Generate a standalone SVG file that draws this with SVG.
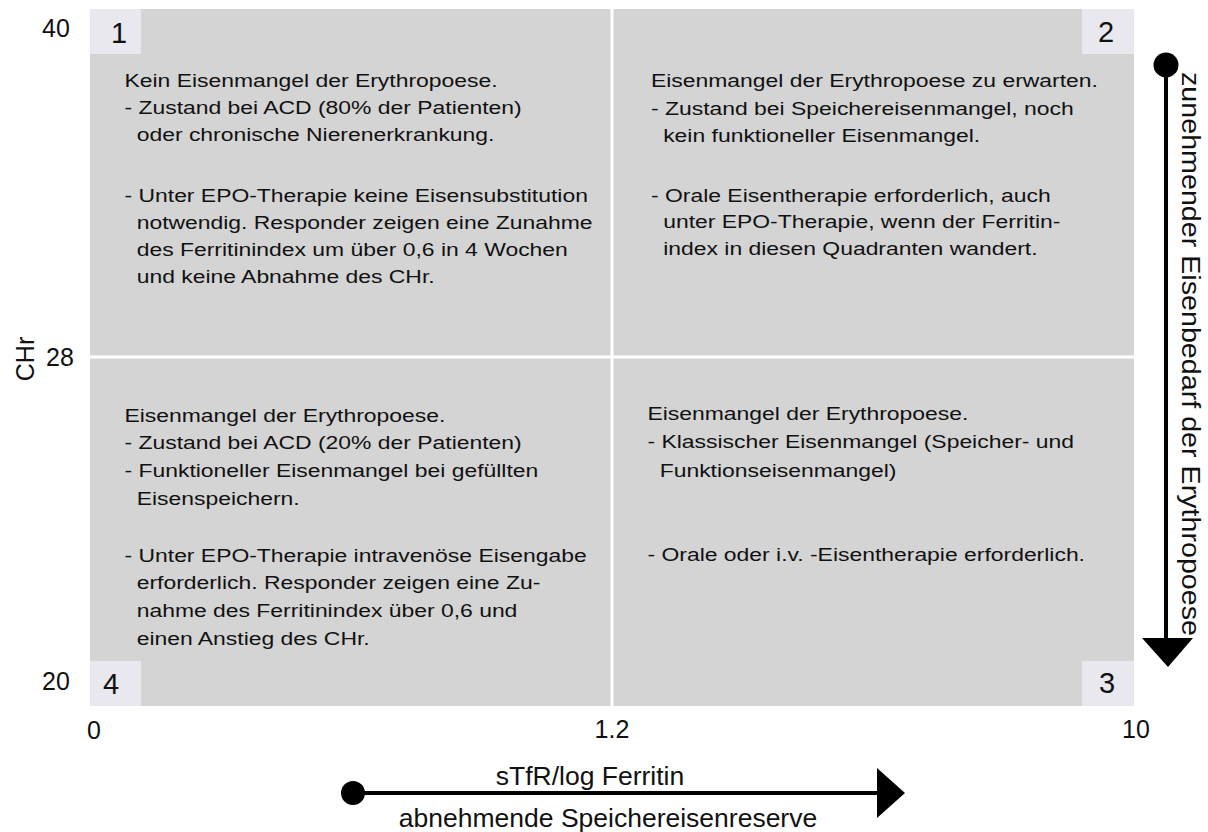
<svg xmlns="http://www.w3.org/2000/svg" width="1208" height="832" viewBox="0 0 1208 832">
<style>
text{font-family:"Liberation Sans",Arial,sans-serif;fill:#111}
.body{font-size:17.5px}
.num{font-size:29px;text-anchor:middle}
.ax{font-size:25px}
.lab{font-size:26.5px;text-anchor:middle}
.quad{fill:#d4d4d4}
.tag{fill:#e8e8ee}
.sep{stroke:#ffffff;stroke-width:3}
.conn{stroke:#000;stroke-width:4;fill:none}
</style>
<rect width="1208" height="832" fill="#ffffff"/>
<g id="grid">
<rect class="quad" x="90" y="9" width="1044" height="697"/>
<line class="sep" x1="612" y1="9" x2="612" y2="706"/>
<line class="sep" x1="90" y1="357" x2="1134" y2="357"/>
</g>
<g id="q1">
<rect class="tag" x="90" y="9" width="51" height="45"/>
<text class="num" x="119" y="43">1</text>
<g transform="translate(124.5 0) scale(1.31 1)">
<text class="body"><tspan x="0" y="87">Kein Eisenmangel der Erythropoese.</tspan><tspan x="0" y="114">- Zustand bei ACD (80% der Patienten)</tspan><tspan x="9.3" y="141">oder chronische Nierenerkrankung.</tspan><tspan x="0" y="202">- Unter EPO-Therapie keine Eisensubstitution</tspan><tspan x="9.3" y="229">notwendig. Responder zeigen eine Zunahme</tspan><tspan x="9.3" y="256">des Ferritinindex um über 0,6 in 4 Wochen</tspan><tspan x="9.3" y="283">und keine Abnahme des CHr.</tspan></text>
</g>
</g>
<g id="q2">
<rect class="tag" x="1082" y="9" width="52" height="45"/>
<text class="num" x="1106" y="42">2</text>
<g transform="translate(651 0) scale(1.31 1)">
<text class="body"><tspan x="0" y="87">Eisenmangel der Erythropoese zu erwarten.</tspan><tspan x="0" y="115">- Zustand bei Speichereisenmangel, noch</tspan><tspan x="9.3" y="142">kein funktioneller Eisenmangel.</tspan><tspan x="0" y="202">- Orale Eisentherapie erforderlich, auch</tspan><tspan x="9.3" y="228">unter EPO-Therapie, wenn der Ferritin-</tspan><tspan x="9.3" y="255">index in diesen Quadranten wandert.</tspan></text>
</g>
</g>
<g id="q4">
<rect class="tag" x="90" y="661" width="51" height="45"/>
<text class="num" x="111" y="694">4</text>
<g transform="translate(124.5 0) scale(1.31 1)">
<text class="body"><tspan x="0" y="422">Eisenmangel der Erythropoese.</tspan><tspan x="0" y="449">- Zustand bei ACD (20% der Patienten)</tspan><tspan x="0" y="477">- Funktioneller Eisenmangel bei gefüllten</tspan><tspan x="9.3" y="505">Eisenspeichern.</tspan><tspan x="0" y="562">- Unter EPO-Therapie intravenöse Eisengabe</tspan><tspan x="9.3" y="589">erforderlich. Responder zeigen eine Zu-</tspan><tspan x="9.3" y="617">nahme des Ferritinindex über 0,6 und</tspan><tspan x="9.3" y="645">einen Anstieg des CHr.</tspan></text>
</g>
</g>
<g id="q3">
<rect class="tag" x="1082" y="661" width="52" height="45"/>
<text class="num" x="1107" y="693">3</text>
<g transform="translate(647.5 0) scale(1.31 1)">
<text class="body"><tspan x="0" y="420">Eisenmangel der Erythropoese.</tspan><tspan x="0" y="448">- Klassischer Eisenmangel (Speicher- und</tspan><tspan x="9.3" y="477">Funktionseisenmangel)</tspan><tspan x="0" y="561">- Orale oder i.v. -Eisentherapie erforderlich.</tspan></text>
</g>
</g>
<g id="axes">
<text class="ax" x="42" y="37">40</text>
<text class="ax" x="46" y="366">28</text>
<text class="ax" x="42" y="690">20</text>
<text class="ax" x="87" y="739">0</text>
<text class="ax" x="612" y="738" text-anchor="middle">1.2</text>
<text class="ax" x="1136" y="738" text-anchor="middle">10</text>
<text class="ax" transform="translate(34 359) rotate(-90)" text-anchor="middle" font-size="26">CHr</text>
</g>
<g id="connectors">
<circle cx="1166" cy="65" r="12.5" fill="#000"/>
<line class="conn" x1="1166" y1="65" x2="1166" y2="640"/>
<polygon points="1142,638 1193,638 1168,667" fill="#000"/>
<circle cx="353" cy="793" r="12" fill="#000"/>
<line class="conn" x1="353" y1="793" x2="880" y2="793"/>
<polygon points="877,768 877,818 905,793" fill="#000"/>
</g>
<g id="labels">
<text class="lab" x="590" y="785">sTfR/log Ferritin</text>
<text class="lab" x="608" y="827">abnehmende Speichereisenreserve</text>
<text class="lab" transform="translate(1182 354) rotate(90)" font-size="28.5" textLength="564" lengthAdjust="spacingAndGlyphs">zunehmender Eisenbedarf der Erythropoese</text>
</g>
</svg>
